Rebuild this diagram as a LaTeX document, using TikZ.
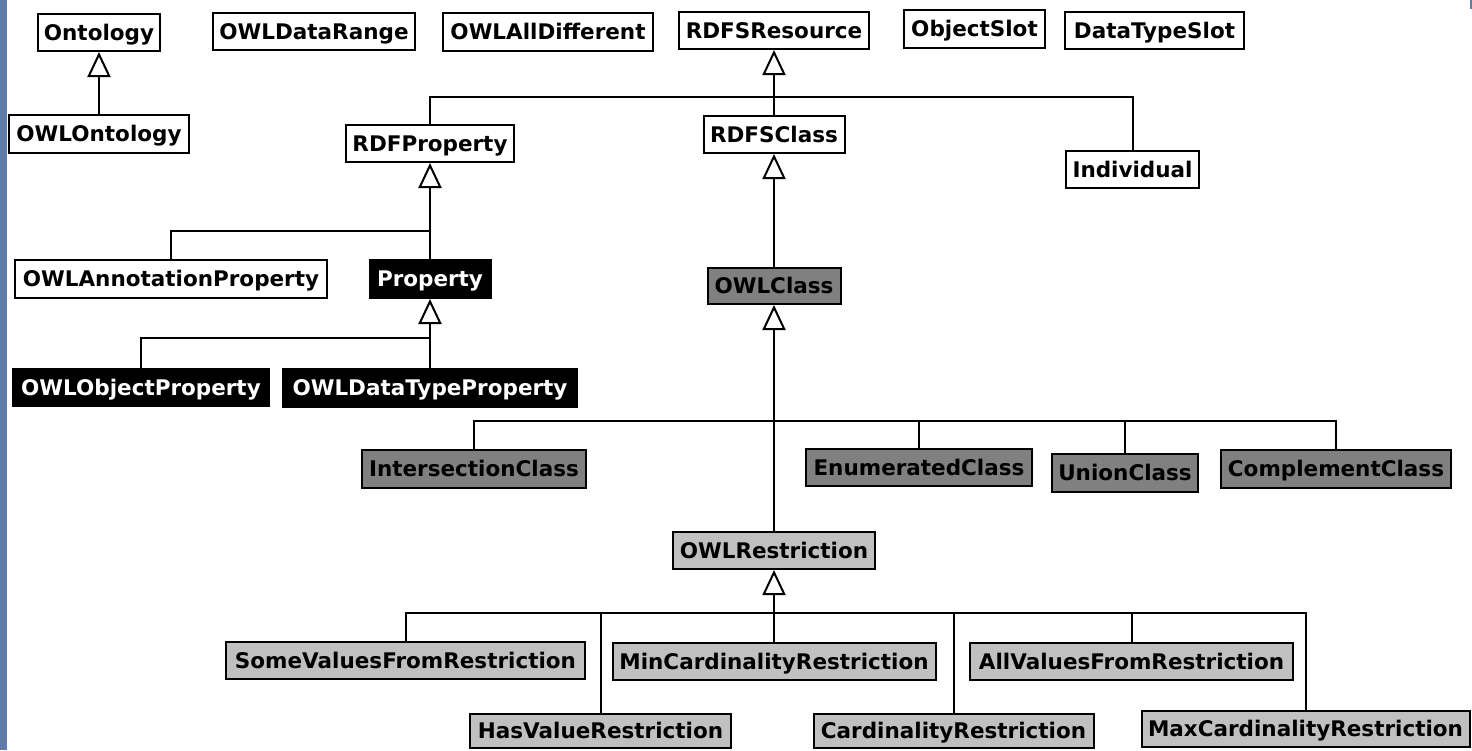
\documentclass[tikz,border=0pt]{standalone}
\usepackage{fontspec}
\newfontfamily\cfont{DejaVu Sans}
\usetikzlibrary{arrows.meta}
\definecolor{strip}{RGB}{96,124,166}
\definecolor{dgray}{RGB}{128,128,128}
\definecolor{lgray}{RGB}{192,192,192}
\tikzset{
  cls/.style={draw=black, line width=2pt, inner sep=0pt, text height=15.7pt, text depth=0pt,
    font={\cfont\bfseries\fontsize{21.5}{24}\selectfont}, anchor=center},
  wcls/.style={cls, fill=white, text=black},
  bcls/.style={cls, fill=black, text=white},
  dcls/.style={cls, fill=dgray, text=black},
  lcls/.style={cls, fill=lgray, text=black},
  link/.style={draw=black, line width=2pt},
  gen/.style={link, -{Triangle[open, length=25pt, width=23pt, line width=2pt]}},
}
\begin{document}
\begin{tikzpicture}[x=1pt, y=-1pt]
\useasboundingbox (0,0) rectangle (1472,750);
\fill[strip] (0,0) rectangle (7,750);
\fill[strip] (1469.5,0) rectangle (1472,9);

% top row
\node[wcls, minimum width=122pt, minimum height=37pt] (ont) at (99,32.5) {Ontology};
\node[wcls, minimum width=202pt, minimum height=37pt] (dr) at (314,31.5) {OWLDataRange};
\node[wcls, minimum width=210pt, minimum height=38pt] (ad) at (548,32) {OWLAllDifferent};
\node[wcls, minimum width=190pt, minimum height=37pt] (res) at (774,30.5) {RDFSResource};
\node[wcls, minimum width=141pt, minimum height=38pt] (os) at (974.5,29) {ObjectSlot};
\node[wcls, minimum width=179pt, minimum height=37pt] (dts) at (1154.5,30.5) {DataTypeSlot};

% second level
\node[wcls, minimum width=180pt, minimum height=38pt] (owlont) at (99,134) {OWLOntology};
\node[wcls, minimum width=168pt, minimum height=37pt] (rdfp) at (430,143.5) {RDFProperty};
\node[wcls, minimum width=141pt, minimum height=37pt] (rdfsc) at (774,134.5) {RDFSClass};
\node[wcls, minimum width=133pt, minimum height=37pt] (ind) at (1132.5,169.5) {Individual};

% property branch
\node[wcls, minimum width=312pt, minimum height=38pt] (ann) at (171,279) {OWLAnnotationProperty};
\node[bcls, minimum width=121pt, minimum height=38pt] (prop) at (430,279) {Property};
\node[bcls, minimum width=256pt, minimum height=37pt] (op) at (141,387.5) {OWLObjectProperty};
\node[bcls, minimum width=294pt, minimum height=38pt] (dtp) at (430,388) {OWLDataTypeProperty};

% class branch
\node[dcls, minimum width=133pt, minimum height=36pt] (owlc) at (774,286) {OWLClass};
\node[dcls, minimum width=224pt, minimum height=38pt] (inter) at (474,469) {IntersectionClass};
\node[dcls, minimum width=226pt, minimum height=37pt] (enum) at (919,467.5) {EnumeratedClass};
\node[dcls, minimum width=146pt, minimum height=38pt] (union) at (1125,473) {UnionClass};
\node[dcls, minimum width=230pt, minimum height=38pt] (comp) at (1336,469) {ComplementClass};

% restrictions
\node[lcls, minimum width=202pt, minimum height=37pt] (restr) at (774,550.5) {OWLRestriction};
\node[lcls, minimum width=359pt, minimum height=37pt] (some) at (405.5,660.5) {SomeValuesFromRestriction};
\node[lcls, minimum width=323pt, minimum height=37pt] (minc) at (774,661.5) {MinCardinalityRestriction};
\node[lcls, minimum width=323pt, minimum height=37pt] (allv) at (1131.5,661.5) {AllValuesFromRestriction};
\node[lcls, minimum width=261pt, minimum height=34pt] (hasv) at (600.5,731) {HasValueRestriction};
\node[lcls, minimum width=280pt, minimum height=34pt] (card) at (953.5,731) {CardinalityRestriction};
\node[lcls, minimum width=328pt, minimum height=36pt] (maxc) at (1305.5,729) {MaxCardinalityRestriction};

% bus junctions
\coordinate (b1) at (774,97);
\coordinate (b2) at (430,231);
\coordinate (b3) at (430,338);
\coordinate (b4) at (774,421);
\coordinate (b5) at (774,613);

% generalizations
\draw[gen] (owlont.north) -- (ont.south);

\draw[link] (rdfp.north) |- (b1);
\draw[link] (ind.north) |- (b1);
\draw[link] (rdfsc.north) -- (b1);
\draw[gen] (b1) -- (res.south);

\draw[link] (ann.north) |- (b2);
\draw[link] (prop.north) -- (b2);
\draw[gen] (b2) -- (rdfp.south);

\draw[link] (op.north) |- (b3);
\draw[link] (dtp.north) -- (b3);
\draw[gen] (b3) -- (prop.south);

\draw[gen] (owlc.north) -- (rdfsc.south);

\draw[link] (inter.north) |- (b4);
\draw[link] (enum.north) |- (b4);
\draw[link] (union.north) |- (b4);
\draw[link] (comp.north) |- (b4);
\draw[link] (restr.north) -- (b4);
\draw[gen] (b4) -- (owlc.south);

\draw[link] (some.north) |- (b5);
\draw[link] (hasv.north) |- (b5);
\draw[link] (minc.north) -- (b5);
\draw[link] (card.north) |- (b5);
\draw[link] (allv.north) |- (b5);
\draw[link] (maxc.north) |- (b5);
\draw[gen] (b5) -- (restr.south);
\end{tikzpicture}
\end{document}
